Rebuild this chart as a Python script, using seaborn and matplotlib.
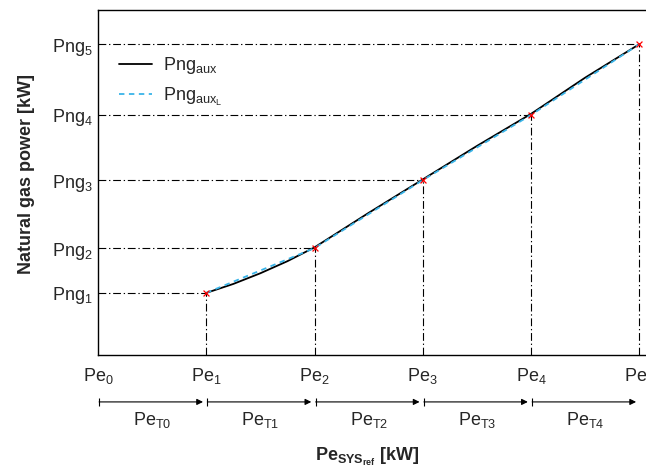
import numpy as np
import pandas as pd
import matplotlib
matplotlib.use("Agg")
import matplotlib.pyplot as plt
import matplotlib.transforms as mtransforms
import seaborn as sns

# ---- data ----
pe_pos = [0, 1, 2, 3, 4, 5]
pe_labels = ["Pe$_0$", "Pe$_1$", "Pe$_2$", "Pe$_3$", "Pe$_4$", "Pe$_5$"]
png_x = [1, 2, 3, 4, 5]
png_vals = [1.80, 3.10, 5.07, 6.96, 9.01]
png_labels = ["Png$_1$", "Png$_2$", "Png$_3$", "Png$_4$", "Png$_5$"]
curve_x = [1.0, 1.25, 1.5, 1.75, 2.0, 2.5, 3.0, 3.5, 4.0, 4.5, 5.0]
curve_y = [1.80, 2.06, 2.37, 2.72, 3.12, 4.12, 5.09, 6.06, 6.99, 8.04, 9.01]
pet_labels = [r"Pe$_{\mathrm{T0}}$", r"Pe$_{\mathrm{T1}}$", r"Pe$_{\mathrm{T2}}$",
              r"Pe$_{\mathrm{T3}}$", r"Pe$_{\mathrm{T4}}$"]

sns.set_theme(style="white")
plt.rcParams["font.family"] = ["Liberation Sans", "DejaVu Sans"]
plt.rcParams["mathtext.fontset"] = "custom"
plt.rcParams["mathtext.rm"] = "Liberation Sans"
plt.rcParams["mathtext.it"] = "Liberation Sans:italic"
plt.rcParams["mathtext.bf"] = "Liberation Sans:bold"

FS = 13

fig = plt.figure(figsize=(6.46, 4.67), dpi=100)
ax = fig.add_axes([98 / 646, 1 - 355 / 467, 563 / 646, 345 / 467])

curve_df = pd.DataFrame({"x": curve_x, "y": curve_y})
lin_df = pd.DataFrame({"x": png_x, "y": png_vals})

# reference dash-dot lines
dd = (0, (7, 2.5, 1.2, 2.5))
for xi, yi in zip(png_x, png_vals):
    ax.plot([0, xi], [yi, yi], color="black", lw=0.8, ls=dd, zorder=1)
    ax.plot([xi, xi], [0, yi], color="black", lw=0.8, ls=dd, zorder=1)

sns.lineplot(data=curve_df, x="x", y="y", ax=ax, color="black", lw=1.3,
             label=r"Png$_{\mathrm{aux}}$", zorder=2)
sns.lineplot(data=lin_df, x="x", y="y", ax=ax, color="#3ab4e8", lw=1.3,
             ls=(0, (3, 2.5)), label=r"Png$_{\mathrm{aux}_{\mathrm{L}}}$", zorder=3)
sns.scatterplot(data=lin_df, x="x", y="y", ax=ax, marker="x", color="red",
                s=18, linewidth=0.9, zorder=4, legend=False)

ax.set_xlim(0, 5.2)
ax.set_ylim(0, 10)
ax.set_xticks(pe_pos)
ax.set_xticklabels(pe_labels, fontsize=FS)
ax.set_yticks(png_vals)
ax.set_yticklabels(png_labels, fontsize=FS)
ax.tick_params(axis="x", length=0, pad=8)
ax.tick_params(axis="y", length=0, pad=4)
for s in ax.spines.values():
    s.set_color("black")
    s.set_linewidth(1.0)
ax.set_xlabel("")
ax.set_ylabel("Natural gas power [kW]", fontsize=FS, fontweight="bold")
ax.yaxis.set_label_coords(-0.112, 0.525)

leg = ax.legend(loc="upper left", bbox_to_anchor=(0.038, 0.869), frameon=False,
                fontsize=FS, handlelength=1.8, labelspacing=0.52, handletextpad=0.6,
                borderpad=0, borderaxespad=0)

# interval arrows
trans = mtransforms.blended_transform_factory(ax.transData, ax.transAxes)
for i in range(5):
    x0, x1 = pe_pos[i], pe_pos[i + 1]
    ax.annotate("", xy=(x1 - 0.03, -0.136), xytext=(x0 + 0.01, -0.136),
                xycoords=trans, textcoords=trans,
                arrowprops=dict(arrowstyle="-|>", color="black", lw=0.8,
                                mutation_scale=9, shrinkA=0, shrinkB=0),
                annotation_clip=False)
    ax.plot([x0 + 0.01], [-0.136], marker="|", color="black", ms=6, mew=0.8,
            transform=trans, clip_on=False)
    ax.text((x0 + x1) / 2, -0.188, pet_labels[i], transform=trans,
            ha="center", va="center", fontsize=FS)

ax.text(2.49, -0.296, r"Pe$_{\mathbf{SYS}_{\mathbf{ref}}}$ [kW]", transform=trans,
        ha="center", va="center", fontsize=FS, fontweight="bold")

fig.savefig("out.png", dpi=100)
